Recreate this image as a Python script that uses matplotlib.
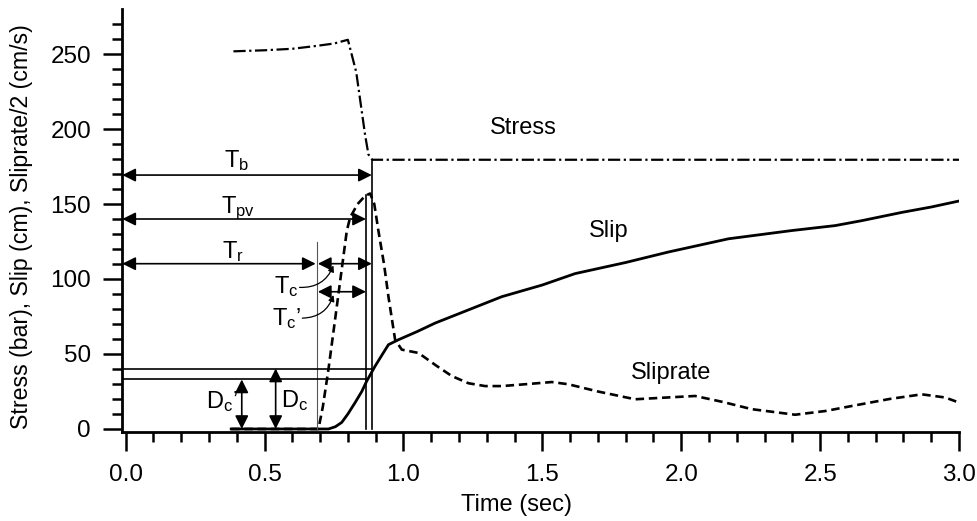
import matplotlib
matplotlib.use("Agg")
import matplotlib.pyplot as plt
from matplotlib.ticker import MultipleLocator

plt.rcParams["font.family"] = ["Liberation Sans", "DejaVu Sans"]
plt.rcParams["mathtext.fontset"] = "custom"
plt.rcParams["mathtext.rm"] = "Liberation Sans"
plt.rcParams["mathtext.it"] = "Liberation Sans:italic"

# stress (bar), dash-dot
stress_t = [0.388, 0.50, 0.60, 0.682, 0.75, 0.80, 0.83, 0.862, 0.874, 0.888, 3.0]
stress_v = [251.8, 252.5, 253.5, 255.3, 257.0, 259.5, 238.0, 196.0, 183.0, 179.5, 179.5]

# slip (cm), solid
slip_t = [0.38, 0.73, 0.755, 0.778, 0.80, 0.826, 0.85, 0.868, 0.898, 0.925, 0.946,
          0.982, 1.05, 1.114, 1.234, 1.354, 1.5, 1.618, 1.8, 1.954, 2.17, 2.398,
          2.554, 2.65, 2.794, 2.9, 3.0]
slip_v = [0, 0, 1.5, 4.4, 10, 17.6, 25, 32, 41.9, 50, 56.2,
          59.5, 65, 70.6, 79.4, 88.2, 96, 103.6, 111, 118, 126.8, 132.3,
          135.6, 138.9, 144.4, 148, 152]

# slip rate / 2 (cm/s), dashed
rate_t = [0.38, 0.694, 0.71, 0.73, 0.76, 0.796, 0.808, 0.835, 0.862, 0.88, 0.895,
          0.91, 0.93, 0.946, 0.97, 0.994, 1.054, 1.12, 1.174, 1.234, 1.294, 1.354,
          1.45, 1.534, 1.594, 1.7, 1.834, 1.95, 2.05, 2.15, 2.254, 2.41, 2.52,
          2.616, 2.75, 2.866, 2.95, 3.0]
rate_v = [0, 0, 15, 39.7, 81.5, 132, 141, 150, 155.4, 157, 150,
          132, 110, 88.2, 59.5, 52.9, 50.7, 42, 35.3, 30.5, 28.6, 28.6,
          30, 31.3, 29.8, 25, 19.8, 21, 22, 18, 13.2, 9.5, 12,
          15.4, 20, 23.1, 21, 17.6]

# characteristic times (sec) and slip levels (cm)
t_r = 0.688
t_pv = 0.865
t_b = 0.886
dc_slip = 40.3
dcp_slip = 33.0

fig = plt.figure(figsize=(9.77, 5.21), dpi=100)
ax = fig.add_axes([0.1252, 0.1703, 0.8564, 0.8115])

ax.plot(stress_t, stress_v, color="black", lw=1.6, linestyle=(0, (5.5, 1.6, 1, 1.6)))
ax.plot(slip_t, slip_v, color="black", lw=2.0)
ax.plot(rate_t, rate_v, color="black", lw=1.9, linestyle=(0, (3.2, 1.8)))

# guide lines
ax.plot([t_r, t_r], [0, 124.5], color="#555555", lw=0.8)
ax.plot([t_pv, t_pv], [0, 156], color="black", lw=1.2)
ax.plot([t_b, t_b], [0, 179.5], color="black", lw=1.2)
ax.plot([-0.012, t_b], [dc_slip, dc_slip], color="black", lw=1.2)
ax.plot([-0.012, t_pv], [dcp_slip, dcp_slip], color="black", lw=1.2)

arr = dict(arrowstyle="<|-|>", color="black", lw=1.2, mutation_scale=20,
           shrinkA=0, shrinkB=0)


def span(x0, y0, x1, y1):
    ax.annotate("", xy=(x1, y1), xytext=(x0, y0), arrowprops=arr)


span(-0.012, 169.3, t_b, 169.3)
span(-0.012, 140.0, t_pv, 140.0)
span(-0.012, 110.2, t_r - 0.004, 110.2)
span(t_r + 0.004, 110.2, t_b, 110.2)
span(t_r + 0.004, 91.5, t_pv, 91.5)
span(0.54, 0, 0.54, dc_slip)
span(0.418, 0, 0.418, dcp_slip)

fs = 17
ax.text(0.40, 174.5, r"$\mathrm{T_{b}}$", fontsize=fs, ha="center", va="baseline")
ax.text(0.406, 144.0, r"$\mathrm{T_{pv}}$", fontsize=fs, ha="center", va="baseline")
ax.text(0.388, 113.6, r"$\mathrm{T_{r}}$", fontsize=fs, ha="center", va="baseline")
ax.text(0.622, 90.4, r"$\mathrm{T_{c}}$", fontsize=fs, ha="right", va="baseline")
ax.text(0.632, 69.4, r"$\mathrm{T_{c}}$’", fontsize=fs, ha="right", va="baseline")
ax.text(0.56, 14.3, r"$\mathrm{D_{c}}$", fontsize=fs, ha="left", va="baseline")
ax.text(0.404, 13.9, r"$\mathrm{D_{c}}$’", fontsize=fs, ha="right", va="baseline")

curl = dict(arrowstyle="-|>", color="black", lw=0.9, mutation_scale=9,
            shrinkA=0, shrinkB=0, connectionstyle="arc3,rad=0.35")
ax.annotate("", xy=(0.748, 109), xytext=(0.626, 94.4), arrowprops=curl)
ax.annotate("", xy=(0.748, 89.3), xytext=(0.636, 73.9), arrowprops=curl)

ax.text(1.433, 197, "Stress", fontsize=fs, ha="center", va="baseline")
ax.text(1.738, 128, "Slip", fontsize=fs, ha="center", va="baseline")
ax.text(1.964, 33, "Sliprate", fontsize=fs, ha="center", va="baseline")

ax.set_xlim(-0.012, 3.0)
ax.set_ylim(-2.2, 279.7)
ax.set_xticks([0, 0.5, 1.0, 1.5, 2.0, 2.5, 3.0])
ax.set_xticklabels(["0.0", "0.5", "1.0", "1.5", "2.0", "2.5", "3.0"])
ax.set_yticks([0, 50, 100, 150, 200, 250])
ax.xaxis.set_minor_locator(MultipleLocator(0.1))
ax.yaxis.set_minor_locator(MultipleLocator(10))
ax.tick_params(which="major", direction="out", length=14, width=1.8, labelsize=17.5)
ax.tick_params(axis="x", which="major", pad=8.5)
ax.tick_params(axis="y", which="major", pad=8.5)
ax.tick_params(which="minor", direction="out", length=7.5, width=1.8)
for s in ["top", "right"]:
    ax.spines[s].set_visible(False)
for s in ["left", "bottom"]:
    ax.spines[s].set_linewidth(2.0)

ax.set_xlabel("Time (sec)", fontsize=17)
ax.xaxis.set_label_coords(0.4717, -0.146)
ax.set_ylabel("Stress (bar), Slip (cm), Sliprate/2 (cm/s)", fontsize=16.7)
ax.yaxis.set_label_coords(-0.1067, 0.487)

fig.savefig("out.png", dpi=100)
